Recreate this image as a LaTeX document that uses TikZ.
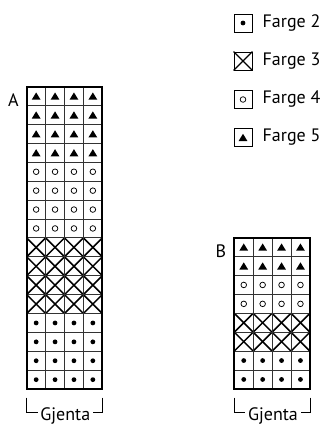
\documentclass[tikz,border=0pt]{standalone}
\usepackage{fontspec}
\setmainfont{PT Sans}
\usetikzlibrary{positioning}
\tikzset{
  gridln/.style={line width=0.9pt, black!80},
  frame/.style={line width=2.2pt},
  ringmark/.style={line width=0.75pt},
  crossln/.style={line width=1.5pt},
  keybox/.style={draw, line width=0.9pt, minimum size=18pt, inner sep=0pt},
  keytext/.style={inner sep=0pt, anchor=west, font=\fontsize{18}{21}\selectfont},
  lbl/.style={inner sep=0pt, font=\fontsize{18}{21}\selectfont},
  bracket/.style={line width=0.9pt},
}
\newcommand{\cellsz}{18.9}
\newcommand{\mkdot}[2]{\fill (#1,#2) circle (2.4pt);}
\newcommand{\mkring}[2]{\draw[ringmark] (#1,#2) circle (2.8pt);}
\newcommand{\mktri}[2]{\fill ({#1-4.4},{#2+3.5}) -- ({#1+4.4},{#2+3.5}) -- (#1,{#2-3.7}) -- cycle;}
\newcommand{\mkcross}[2]{%
  \draw[crossln] ({#1-\cellsz/2},{#2-\cellsz/2}) -- ({#1+\cellsz/2},{#2+\cellsz/2});
  \draw[crossln] ({#1-\cellsz/2},{#2+\cellsz/2}) -- ({#1+\cellsz/2},{#2-\cellsz/2});}
% #1 left, #2 top, #3 rows per colour
\newcommand{\chart}[3]{%
  \pgfmathtruncatemacro{\nrows}{4*#3}
  \foreach \c in {0,...,3}{\foreach \r in {1,...,\nrows}{%
    \pgfmathsetmacro{\cx}{#1+(\c+0.5)*\cellsz}
    \pgfmathsetmacro{\cy}{#2+(\r-0.5)*\cellsz}
    \pgfmathtruncatemacro{\blk}{ceil(\r/#3)}
    \ifcase\blk\or\mktri{\cx}{\cy}\or\mkring{\cx}{\cy}\or\mkcross{\cx}{\cy}\or\mkdot{\cx}{\cy}\fi}}
  \foreach \c in {1,2,3} \draw[gridln] ({#1+\c*\cellsz},#2) -- ({#1+\c*\cellsz},{#2+\nrows*\cellsz});
  \foreach \r in {1,...,\nrows} \draw[gridln] (#1,{#2+\r*\cellsz}) -- ({#1+4*\cellsz},{#2+\r*\cellsz});
  \draw[frame] (#1,#2) rectangle ({#1+4*\cellsz},{#2+\nrows*\cellsz});}

\begin{document}
\begin{tikzpicture}[x=1pt, y=-1pt]
  \useasboundingbox (0,0) rectangle (321,425);
  % key
  \node[keybox] (k2) at (243,23) {};
  \node[keybox] (k3) at (243,61) {};
  \node[keybox] (k4) at (243,99.5) {};
  \node[keybox] (k5) at (243,137.5) {};
  \mkdot{243}{23}
  \draw[line width=1.2pt] (k3.north west) -- (k3.south east) (k3.south west) -- (k3.north east);
  \mkring{243}{99.5}
  \mktri{243}{137.5}
  \node[keytext, right=10pt of k2] (t2) {Farge 2};
  \node[keytext, right=10pt of k3] (t3) {Farge 3};
  \node[keytext, right=10pt of k4] (t4) {Farge 4};
  \node[keytext, right=10pt of k5] (t5) {Farge 5};
  % charts
  \chart{26.7}{86.7}{4}
  \chart{234.3}{237.7}{2}
  \node[lbl] (labA) at (13.3,100.5) {A};
  \node[lbl] (labB) at (221,251) {B};
  % repeat brackets
  \node[lbl] (gA) at (65.3,415.5) {Gjenta};
  \node[lbl] (gB) at (273,415.5) {Gjenta};
  \coordinate (aL) at (26.7,397.7);
  \coordinate (aR) at (102.3,397.7);
  \coordinate (bL) at (234.3,397.7);
  \coordinate (bR) at (310.9,397.7);
  \draw[bracket] (aL) -- ++(0,14.6) -- ([xshift=-2.5pt]gA.west |- 0,412.3);
  \draw[bracket] (aR) -- ++(0,14.6) -- ([xshift=2.5pt]gA.east |- 0,412.3);
  \draw[bracket] (bL) -- ++(0,14.6) -- ([xshift=-2.5pt]gB.west |- 0,412.3);
  \draw[bracket] (bR) -- ++(0,14.6) -- ([xshift=2.5pt]gB.east |- 0,412.3);
\end{tikzpicture}
\end{document}
